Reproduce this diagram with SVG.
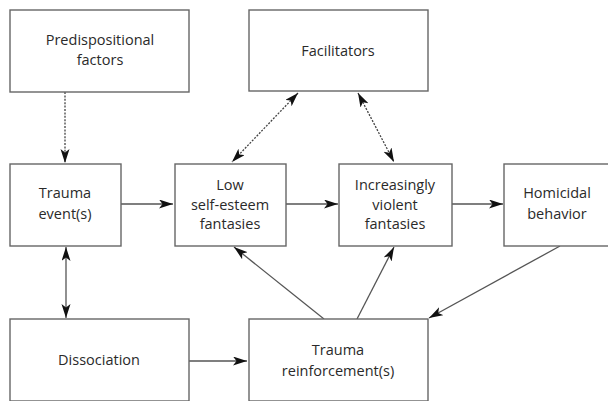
<svg xmlns="http://www.w3.org/2000/svg" width="608" height="401" viewBox="0 0 608 401">
<defs>
<style>
.box{fill:#fff;stroke:#666;stroke-width:1.4}
.t{font-family:"Open Sans","Noto Sans",sans-serif;font-size:14.5px;fill:#2a2a2a;text-anchor:middle}
.ln{stroke:#555;stroke-width:1.3;fill:none;marker-end:url(#ah)}
.dot{stroke-dasharray:2 1.4;stroke:#444}
.both{marker-start:url(#ah)}
</style>
<marker id="ah" markerWidth="15" markerHeight="10" refX="14" refY="4.5" orient="auto-start-reverse" markerUnits="userSpaceOnUse">
<path d="M0,0 L14,4.5 L0,9 L3.5,4.5 Z" fill="#111"/>
</marker>
</defs>
<rect width="608" height="401" fill="#fff"/>
<g id="connectors">
<line class="ln dot" x1="65" y1="92" x2="65" y2="163"/>
<line class="ln both" x1="66" y1="247" x2="66" y2="318"/>
<line class="ln" x1="121" y1="204" x2="173" y2="204"/>
<line class="ln" x1="286" y1="204" x2="338" y2="204"/>
<line class="ln" x1="452" y1="204" x2="503" y2="204"/>
<line class="ln dot both" x1="298" y1="93" x2="232" y2="162"/>
<line class="ln dot both" x1="358" y1="93" x2="394" y2="162"/>
<line class="ln" x1="189" y1="361" x2="247" y2="361"/>
<line class="ln" x1="324" y1="319" x2="234" y2="247"/>
<line class="ln" x1="357" y1="319" x2="394" y2="247"/>
<line class="ln" x1="560" y1="246" x2="429" y2="318"/>
</g>
<g id="predispositional">
<rect class="box" x="10" y="10" width="179" height="82"/>
<text class="t" x="100" y="45">Predispositional</text>
<text class="t" x="100" y="65">factors</text>
</g>
<g id="facilitators">
<rect class="box" x="249" y="10" width="179" height="81"/>
<text class="t" x="338" y="56">Facilitators</text>
</g>
<g id="trauma-event">
<rect class="box" x="10" y="164" width="111" height="82"/>
<text class="t" x="65" y="198">Trauma</text>
<text class="t" x="65" y="219">event(s)</text>
</g>
<g id="low-self-esteem">
<rect class="box" x="175" y="164" width="111" height="82"/>
<text class="t" x="230" y="190">Low</text>
<text class="t" x="230" y="210">self-esteem</text>
<text class="t" x="230" y="229">fantasies</text>
</g>
<g id="increasingly-violent">
<rect class="box" x="339" y="164" width="113" height="82"/>
<text class="t" x="395" y="190">Increasingly</text>
<text class="t" x="395" y="210">violent</text>
<text class="t" x="395" y="229">fantasies</text>
</g>
<g id="homicidal">
<rect class="box" x="504" y="164" width="110" height="82"/>
<text class="t" x="557" y="198">Homicidal</text>
<text class="t" x="557" y="219">behavior</text>
</g>
<g id="dissociation">
<rect class="box" x="10" y="319" width="179" height="82"/>
<text class="t" x="99" y="365">Dissociation</text>
</g>
<g id="trauma-reinforcement">
<rect class="box" x="249" y="319" width="179" height="82"/>
<text class="t" x="338" y="355">Trauma</text>
<text class="t" x="338" y="376">reinforcement(s)</text>
</g>
</svg>
